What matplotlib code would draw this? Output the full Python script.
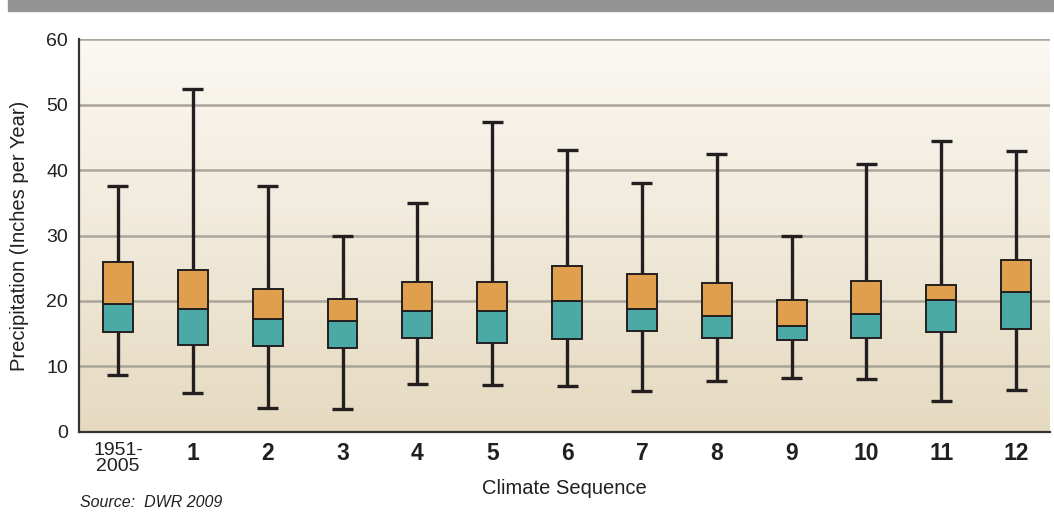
import numpy as np
import matplotlib.pyplot as plt
from matplotlib.patches import Rectangle

plt.rcParams['font.family'] = ['Liberation Sans', 'DejaVu Sans']

labels = ['1951-\n2005', '1', '2', '3', '4', '5', '6', '7', '8', '9', '10', '11', '12']
whisker_low = [8.7, 5.9, 3.7, 3.5, 7.3, 7.2, 7.0, 6.3, 7.8, 8.2, 8.1, 4.8, 6.4]
q1 = [15.3, 13.3, 13.2, 12.8, 14.3, 13.6, 14.2, 15.4, 14.4, 14.0, 14.3, 15.3, 15.8]
median = [19.6, 18.8, 17.3, 17.0, 18.5, 18.4, 20.0, 18.8, 17.7, 16.2, 18.0, 20.2, 21.3]
q3 = [25.9, 24.7, 21.8, 20.3, 22.9, 22.9, 25.3, 24.1, 22.7, 20.2, 23.1, 22.5, 26.2]
whisker_high = [37.5, 52.4, 37.5, 30.0, 34.9, 47.4, 43.1, 38.0, 42.4, 29.9, 40.9, 44.4, 42.9]

x = np.arange(len(labels))
q1 = np.array(q1)
median = np.array(median)
q3 = np.array(q3)

fig = plt.figure(figsize=(10.54, 5.16), dpi=100)
fig.patches.append(Rectangle((8 / 1054, 1 - 11 / 516), 1, 11 / 516,
                             transform=fig.transFigure, color='#949494', zorder=0))
ax = fig.add_axes([0.075, 0.1628, 0.921, 0.7616])

xlim = (-0.52, 12.45)
ylim = (0, 60)

# background gradient, light at top, tan at bottom
grad = np.linspace(0, 1, 256).reshape(-1, 1)
top = np.array([0.985, 0.975, 0.955])
bot = np.array([0.90, 0.855, 0.755])
img = top + (bot - top) * grad[:, :, None] * np.ones((1, 2, 1))
ax.imshow(img, extent=(xlim[0], xlim[1], ylim[0], ylim[1]), aspect='auto', zorder=0)
ax.set_xlim(*xlim)
ax.set_ylim(*ylim)

for yv in range(10, 61, 10):
    ax.axhline(yv, color='#aaa59b', lw=1.8, zorder=1)

edge = '#231f20'
ax.vlines(x, whisker_low, whisker_high, color=edge, lw=2.4, zorder=2)
ax.hlines(whisker_low, x - 0.14, x + 0.14, color=edge, lw=2.4, zorder=2)
ax.hlines(whisker_high, x - 0.14, x + 0.14, color=edge, lw=2.4, zorder=2)
ax.bar(x, median - q1, bottom=q1, width=0.4, color='#4ba9a6', edgecolor=edge, lw=1.4, zorder=3)
ax.bar(x, q3 - median, bottom=median, width=0.4, color='#e09f4d', edgecolor=edge, lw=1.4, zorder=3)

ax.set_yticks(range(0, 61, 10))
ax.set_xticks(x)
ax.set_xticklabels(labels)
for i, t in enumerate(ax.get_xticklabels()):
    if i == 0:
        t.set_fontsize(14)
        t.set_linespacing(0.95)
    else:
        t.set_fontsize(16.5)
        t.set_fontweight('bold')
ax.tick_params(axis='both', length=0, colors='#231f20')
ax.tick_params(axis='y', labelsize=14, pad=8)
ax.tick_params(axis='x', pad=7)

for s in ['top', 'right']:
    ax.spines[s].set_visible(False)
for s in ['left', 'bottom']:
    ax.spines[s].set_color('#333333')
    ax.spines[s].set_linewidth(1.6)

ax.set_ylabel('Precipitation (Inches per Year)', fontsize=14.5, color='#231f20', labelpad=12)
ax.set_xlabel('Climate Sequence', fontsize=14.5, color='#231f20', labelpad=3)
fig.text(0.076, 0.018, 'Source:  DWR 2009', fontsize=11.5, style='italic', color='#231f20')

fig.savefig('out.png', dpi=100)
